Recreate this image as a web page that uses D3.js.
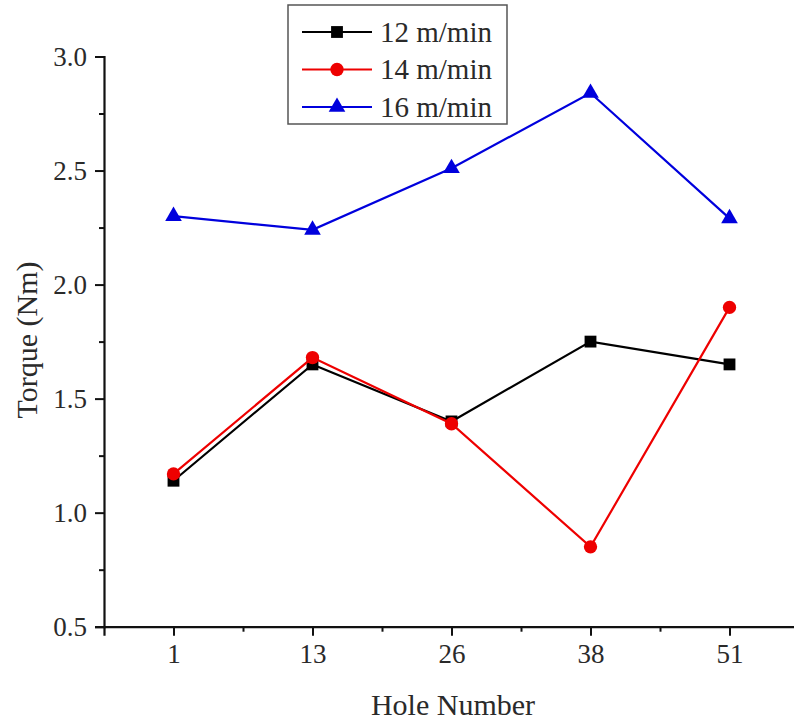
<!DOCTYPE html>
<html><head><meta charset="utf-8">
<script src="https://cdn.jsdelivr.net/npm/d3@7"></script>
<style>body{margin:0;background:#fff} svg text{font-family:'Liberation Serif','Times New Roman',serif !important;}</style>
</head><body>
<svg id="c" width="794" height="723"></svg>
<script>
const categories = ["1","13","26","38","51"];
const s12 = [1.14, 1.65, 1.40, 1.75, 1.65];
const s14 = [1.17, 1.68, 1.39, 0.85, 1.90];
const s16 = [2.30, 2.24, 2.51, 2.84, 2.29];
const seriesNames = ["12 m/min","14 m/min","16 m/min"];
const yTicks = [0.5, 1.0, 1.5, 2.0, 2.5, 3.0];

const svg = d3.select("#c");
const font = "'Liberation Serif','Times New Roman',serif";
const L = 104, R = 799, T = 56.5, B = 626.7;

const x = d3.scaleLinear().domain([-0.5, 4.5]).range([L, R]);
const y = d3.scaleLinear().domain([0.5, 3.0]).range([B, T]);

const xAxis = svg.append("g").attr("transform", `translate(0,${B})`)
  .call(d3.axisBottom(x).tickValues(d3.range(categories.length)).tickSize(9).tickPadding(8)
    .tickFormat(i => categories[i]));
const xMinor = svg.append("g").attr("transform", `translate(0,${B})`)
  .call(d3.axisBottom(x).tickValues(d3.range(categories.length - 1).map(i => i + 0.5)).tickSize(5).tickFormat(""));
const yAxis = svg.append("g").attr("transform", `translate(${L},0)`)
  .call(d3.axisLeft(y).tickValues(yTicks).tickSize(9).tickPadding(8).tickFormat(d3.format(".1f")));
const yMinor = svg.append("g").attr("transform", `translate(${L},0)`)
  .call(d3.axisLeft(y).tickValues([0.75,1.25,1.75,2.25,2.75]).tickSize(5).tickFormat(""));
xMinor.select(".domain").remove();
yMinor.select(".domain").remove();
[xAxis, yAxis, xMinor, yMinor].forEach(g => {
  g.attr("font-family", font).attr("font-size", 27);
  g.selectAll(".domain").attr("stroke", "#111").attr("stroke-width", 2.2);
  g.selectAll(".tick line").attr("stroke", "#111").attr("stroke-width", 2);
  g.selectAll("text").attr("font-family", font).attr("font-size", 27).attr("fill", "#2a2a2a");
});

svg.append("text").attr("x", 453).attr("y", 715).attr("text-anchor", "middle")
  .attr("font-family", font).attr("font-size", 30).attr("fill", "#2a2a2a").text("Hole Number");
svg.append("text").attr("transform", "translate(37,340) rotate(-90)").attr("text-anchor", "middle")
  .attr("font-family", font).attr("font-size", 30).attr("fill", "#2a2a2a").text("Torque (Nm)");

const series = [
  {name: seriesNames[0], vals: s12, color: "#000000", shape: d3.symbolSquare, size: 140},
  {name: seriesNames[1], vals: s14, color: "#ee0000", shape: d3.symbolCircle, size: 140},
  {name: seriesNames[2], vals: s16, color: "#0000dd", shape: d3.symbolTriangle, size: 120}
];
const line = d3.line().x((d, i) => x(i)).y(d => y(d));
series.forEach(s => {
  svg.append("path").datum(s.vals).attr("d", line).attr("fill", "none")
    .attr("stroke", s.color).attr("stroke-width", 2.2);
  svg.selectAll(null).data(s.vals).enter().append("path")
    .attr("d", d3.symbol().type(s.shape).size(s.size))
    .attr("transform", (d, i) => `translate(${x(i)},${y(d)})`)
    .attr("fill", s.color);
});

svg.append("rect").attr("x", 288).attr("y", 5).attr("width", 219).attr("height", 119)
  .attr("fill", "#fff").attr("stroke", "#555").attr("stroke-width", 1.5);
series.forEach((s, k) => {
  const cy = 32 + k * 37.5;
  svg.append("line").attr("x1", 302).attr("x2", 372).attr("y1", cy).attr("y2", cy)
    .attr("stroke", s.color).attr("stroke-width", 2.2);
  svg.append("path").attr("d", d3.symbol().type(s.shape).size(s.size))
    .attr("transform", `translate(337,${cy})`).attr("fill", s.color);
  svg.append("text").attr("x", 380).attr("y", cy + 9.5)
    .attr("font-family", font).attr("font-size", 29).attr("fill", "#2a2a2a").text(s.name);
});
</script>
</body></html>
